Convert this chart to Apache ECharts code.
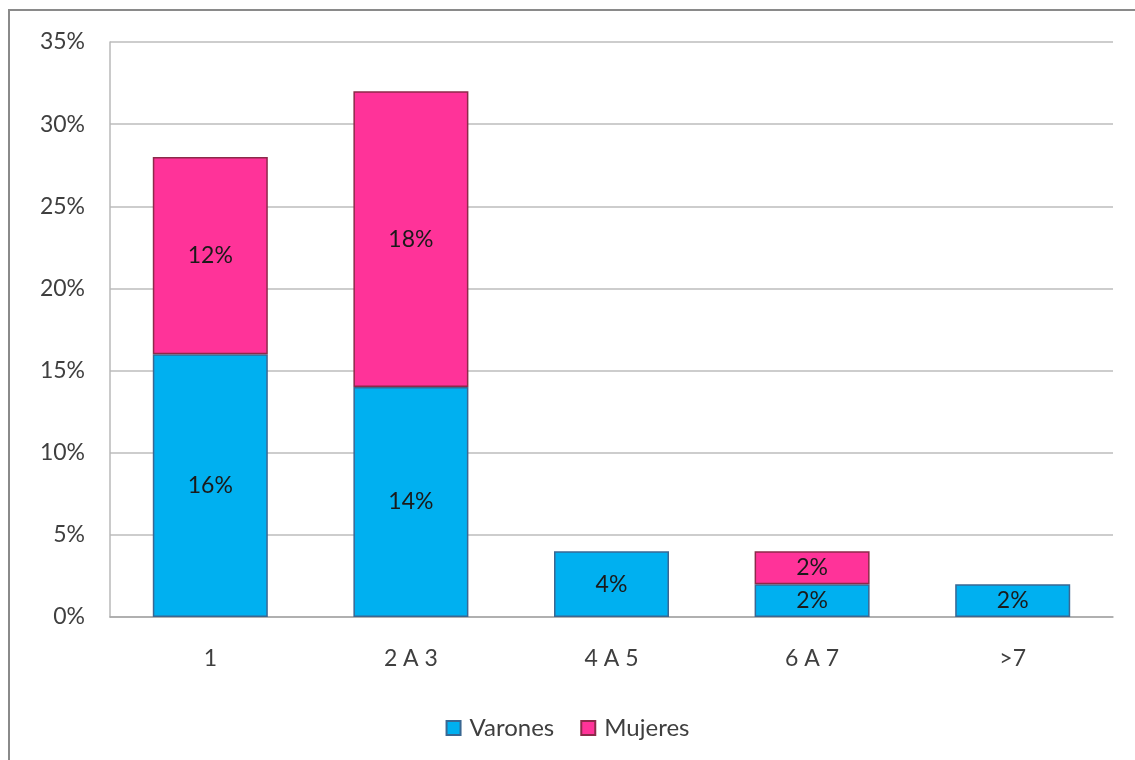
<!DOCTYPE html>
<html>
<head>
<meta charset="utf-8">
<script src="https://cdn.jsdelivr.net/npm/echarts@6/dist/echarts.min.js"></script>
<style>
  html, body { margin: 0; padding: 0; background: #fff; }
  #frame { position: absolute; left: 8px; top: 9px; width: 1125px; height: 749px;
           border-left: 2px solid #8a8a8a; border-top: 2px solid #8a8a8a;
           border-right: 1px solid #d8d8d8; border-bottom: 1px solid #e8e8e8; }
  #chart { position: absolute; left: 0; top: 0; width: 1135px; height: 760px; }
</style>
</head>
<body>
<div id="frame"></div>
<div id="chart"></div>
<script>
// Number of occurrences per group, split by sex (percent of total)
const categories = ['1', '2 A 3', '4 A 5', '6 A 7', '>7'];
const varones = [16, 14, 4, 2, 2];
const mujeres = [12, 18, null, 2, null];
const yTicks = [0, 5, 10, 15, 20, 25, 30, 35];

const font = 'Lato, "Open Sans", sans-serif';
const textColor = '#3f3f3f';

const chart = echarts.init(document.getElementById('chart'), null, { renderer: 'canvas' });

const labelStyle = {
  show: true,
  position: 'inside',
  formatter: p => (p.value == null ? '' : p.value + '%'),
  color: '#1a1a1a',
  fontFamily: font,
  fontSize: 23
};

chart.setOption({
  animation: false,
  backgroundColor: 'transparent',
  grid: { left: 110, right: 22, top: 42, bottom: 143, containLabel: false },
  legend: {
    bottom: 15,
    left: 'center',
    itemWidth: 14,
    itemHeight: 14,
    itemGap: 26,
    icon: 'rect',
    textStyle: { fontFamily: font, fontSize: 24, color: textColor, padding: [0, 0, 0, 4] },
    data: ['Varones', 'Mujeres']
  },
  xAxis: {
    type: 'category',
    data: categories,
    axisLine: { lineStyle: { color: '#a6a6a6', width: 1.5 } },
    axisTick: { show: false },
    axisLabel: { margin: 30, fontFamily: font, fontSize: 23, color: textColor }
  },
  yAxis: {
    type: 'value',
    min: yTicks[0],
    max: yTicks[yTicks.length - 1],
    interval: 5,
    axisLine: { show: true, lineStyle: { color: '#b8b8b8', width: 1.5 } },
    axisTick: { show: false },
    splitLine: { lineStyle: { color: '#bcbcbc', width: 1.5 } },
    axisLabel: { margin: 25, fontFamily: font, fontSize: 23, color: textColor, formatter: '{value}%' }
  },
  series: [
    {
      name: 'Varones',
      type: 'bar',
      stack: 'total',
      barWidth: 115,
      data: varones,
      itemStyle: { color: '#00b0f0', borderColor: '#3a6792', borderWidth: 1.5 },
      label: labelStyle
    },
    {
      name: 'Mujeres',
      type: 'bar',
      stack: 'total',
      barWidth: 115,
      data: mujeres,
      itemStyle: { color: '#ff3399', borderColor: '#8c2a4a', borderWidth: 1.5 },
      label: labelStyle
    }
  ]
});
</script>
</body>
</html>
